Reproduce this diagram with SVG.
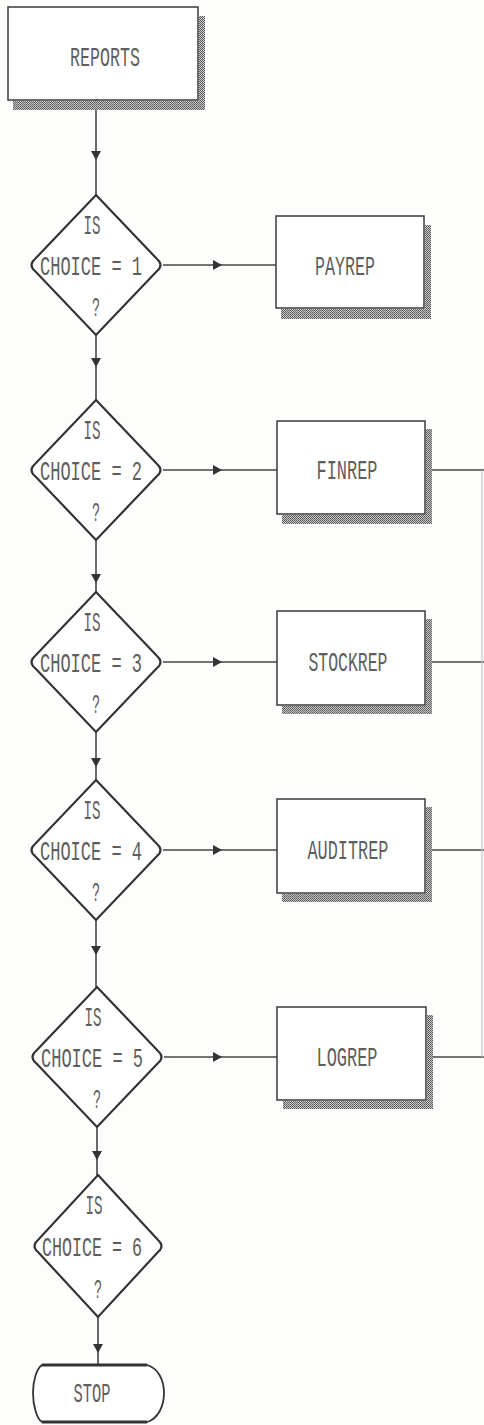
<svg xmlns="http://www.w3.org/2000/svg" width="484" height="1425" viewBox="0 0 484 1425">
<style>
.bg{fill:#fdfdfc}
.box{fill:#ffffff;stroke:#3a3a3a;stroke-width:1.5}
.dia{fill:#ffffff;stroke:#333;stroke-width:2.2;stroke-linejoin:miter}
.sh{fill:url(#stip)}
.t{font-family:"Liberation Mono","DejaVu Sans Mono",monospace;font-size:27px;fill:#5e5e5e;text-anchor:middle}
.c{fill:none;stroke:#444;stroke-width:1.6}
.f{fill:none;stroke:#c4c4c4;stroke-width:1.2}
</style>
<defs>
<pattern id="stip" width="2" height="2" patternUnits="userSpaceOnUse">
<rect width="2" height="2" fill="#c8c8c8"/>
<rect width="1" height="1" fill="#555"/>
<rect x="1" y="1" width="1" height="1" fill="#6a6a6a"/>
</pattern>
<marker id="ah" viewBox="-6 -6 12 12" markerWidth="12" markerHeight="12" markerUnits="userSpaceOnUse" refX="0" refY="0" orient="auto">
<path d="M-4,-5 L5,0 L-4,5 Z" fill="#333"/>
</marker>
</defs>
<rect class="bg" width="484" height="1425"/>

<g id="connectors">
<path class="c" d="M96,100 V155 V195" marker-mid="url(#ah)"/>
<path class="c" d="M96,335 V362 V400" marker-mid="url(#ah)"/>
<path class="c" d="M96,540 V578 V592" marker-mid="url(#ah)"/>
<path class="c" d="M96,732 V762 V780" marker-mid="url(#ah)"/>
<path class="c" d="M96,920 V950 V987" marker-mid="url(#ah)"/>
<path class="c" d="M97,1127 V1155 V1176" marker-mid="url(#ah)"/>
<path class="c" d="M98,1316 V1348 V1364" marker-mid="url(#ah)"/>
<path class="c" d="M163,265 H217 H276" marker-mid="url(#ah)"/>
<path class="c" d="M163,470 H217 H277" marker-mid="url(#ah)"/>
<path class="c" d="M163,662 H217 H277" marker-mid="url(#ah)"/>
<path class="c" d="M163,850 H217 H277" marker-mid="url(#ah)"/>
<path class="c" d="M164,1057 H217 H277" marker-mid="url(#ah)"/>
<path class="c" d="M431,470 H484"/>
<path class="c" d="M431,662 H484"/>
<path class="c" d="M431,850 H484"/>
<path class="c" d="M432,1057 H484"/>
<path class="f" d="M482,470 V1057"/>
</g>

<g id="reports">
<rect class="sh" x="199" y="16" width="6" height="94"/>
<rect class="sh" x="13" y="101" width="192" height="9"/>
<rect class="box" x="8" y="7" width="190" height="93"/>
<text class="t" x="105" y="66" textLength="70" lengthAdjust="spacingAndGlyphs">REPORTS</text>
</g>

<g id="d1">
<path class="dia" d="M96,195 L157,259 Q164,265 157,271 L96,335 L35,271 Q28,265 35,259 Z"/>
<text class="t" x="92" y="234" textLength="17" lengthAdjust="spacingAndGlyphs">IS</text>
<text class="t" x="91" y="275" textLength="102" lengthAdjust="spacingAndGlyphs">CHOICE = 1</text>
<text class="t" x="96" y="316" textLength="8" lengthAdjust="spacingAndGlyphs">?</text>
</g>
<g id="payrep">
<rect class="sh" x="425" y="225" width="6" height="94"/>
<rect class="sh" x="281" y="309" width="150" height="10"/>
<rect class="box" x="276" y="216" width="148" height="92"/>
<text class="t" x="345" y="275" textLength="60" lengthAdjust="spacingAndGlyphs">PAYREP</text>
</g>

<g id="d2">
<path class="dia" d="M96,400 L157,464 Q164,470 157,476 L96,540 L35,476 Q28,470 35,464 Z"/>
<text class="t" x="92" y="439" textLength="17" lengthAdjust="spacingAndGlyphs">IS</text>
<text class="t" x="91" y="480" textLength="102" lengthAdjust="spacingAndGlyphs">CHOICE = 2</text>
<text class="t" x="96" y="521" textLength="8" lengthAdjust="spacingAndGlyphs">?</text>
</g>
<g id="finrep">
<rect class="sh" x="426" y="429" width="6" height="94"/>
<rect class="sh" x="282" y="515" width="150" height="9"/>
<rect class="box" x="277" y="421" width="148" height="93"/>
<text class="t" x="347" y="479" textLength="61" lengthAdjust="spacingAndGlyphs">FINREP</text>
</g>

<g id="d3">
<path class="dia" d="M96,592 L157,656 Q164,662 157,668 L96,732 L35,668 Q28,662 35,656 Z"/>
<text class="t" x="92" y="631" textLength="17" lengthAdjust="spacingAndGlyphs">IS</text>
<text class="t" x="91" y="672" textLength="102" lengthAdjust="spacingAndGlyphs">CHOICE = 3</text>
<text class="t" x="96" y="713" textLength="8" lengthAdjust="spacingAndGlyphs">?</text>
</g>
<g id="stockrep">
<rect class="sh" x="426" y="619" width="6" height="95"/>
<rect class="sh" x="282" y="706" width="150" height="8"/>
<rect class="box" x="277" y="611" width="148" height="94"/>
<text class="t" x="348" y="671" textLength="79" lengthAdjust="spacingAndGlyphs">STOCKREP</text>
</g>

<g id="d4">
<path class="dia" d="M96,780 L157,844 Q164,850 157,856 L96,920 L35,856 Q28,850 35,844 Z"/>
<text class="t" x="92" y="819" textLength="17" lengthAdjust="spacingAndGlyphs">IS</text>
<text class="t" x="91" y="860" textLength="102" lengthAdjust="spacingAndGlyphs">CHOICE = 4</text>
<text class="t" x="96" y="901" textLength="8" lengthAdjust="spacingAndGlyphs">?</text>
</g>
<g id="auditrep">
<rect class="sh" x="426" y="807" width="6" height="95"/>
<rect class="sh" x="282" y="894" width="150" height="8"/>
<rect class="box" x="277" y="799" width="148" height="94"/>
<text class="t" x="348" y="859" textLength="81" lengthAdjust="spacingAndGlyphs">AUDITREP</text>
</g>

<g id="d5">
<path class="dia" d="M97,987 L158,1051 Q165,1057 158,1063 L97,1127 L36,1063 Q29,1057 36,1051 Z"/>
<text class="t" x="93" y="1026" textLength="17" lengthAdjust="spacingAndGlyphs">IS</text>
<text class="t" x="92" y="1067" textLength="102" lengthAdjust="spacingAndGlyphs">CHOICE = 5</text>
<text class="t" x="97" y="1108" textLength="8" lengthAdjust="spacingAndGlyphs">?</text>
</g>
<g id="logrep">
<rect class="sh" x="427" y="1015" width="6" height="94"/>
<rect class="sh" x="283" y="1101" width="150" height="8"/>
<rect class="box" x="277" y="1007" width="149" height="93"/>
<text class="t" x="347" y="1066" textLength="61" lengthAdjust="spacingAndGlyphs">LOGREP</text>
</g>

<g id="d6">
<path class="dia" d="M98,1175 L158,1240 Q165,1246 158,1252 L98,1317 L38,1252 Q31,1246 38,1240 Z"/>
<text class="t" x="94" y="1214" textLength="17" lengthAdjust="spacingAndGlyphs">IS</text>
<text class="t" x="92" y="1256" textLength="100" lengthAdjust="spacingAndGlyphs">CHOICE = 6</text>
<text class="t" x="98" y="1298" textLength="8" lengthAdjust="spacingAndGlyphs">?</text>
</g>

<g id="stop">
<path d="M42,1365 H147 C158,1368 164,1380 164,1393 C164,1406 158,1419 147,1422 H42 C37,1419 33,1406 33,1393 C33,1380 37,1368 42,1365 Z" fill="#fff" stroke="#333" stroke-width="1.8"/>
<path d="M42,1365 H147 M42,1422 H147" fill="none" stroke="#333" stroke-width="3"/>
<text class="t" x="92" y="1402" textLength="37" lengthAdjust="spacingAndGlyphs">STOP</text>
</g>
</svg>
